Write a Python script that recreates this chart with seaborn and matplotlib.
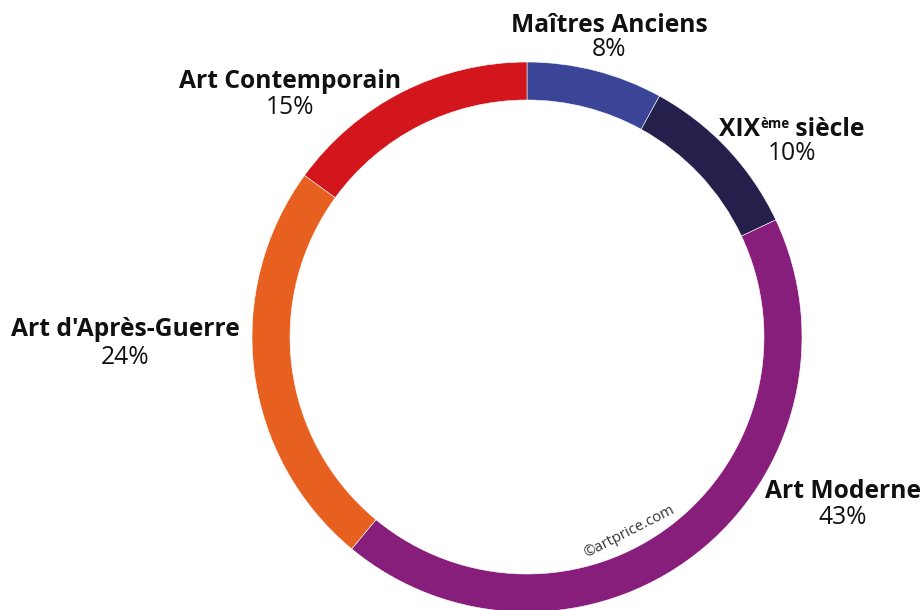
import matplotlib
matplotlib.use("Agg")
import matplotlib.pyplot as plt
import seaborn as sns

categories = ["Maîtres Anciens", "XIXème siècle", "Art Moderne", "Art d'Après-Guerre", "Art Contemporain"]
shares = [8, 10, 43, 24, 15]
pct_labels = ["8%", "10%", "43%", "24%", "15%"]

colors = ["#3a4597", "#241f4b", "#871e7c", "#e8601f", "#d3161b"]

sns.set_theme(style="white")
plt.rcParams['font.family'] = ['Open Sans', 'DejaVu Sans']

W, H = 921, 610
fig = plt.figure(figsize=(W / 100, H / 100), dpi=100)
ax = fig.add_axes([0, 0, 1, 1])
ax.set_xlim(0, W)
ax.set_ylim(0, H)
ax.set_aspect('equal')
ax.axis('off')

cx, cy = 527, H - 337
R = 275
ax.pie(shares, colors=colors, startangle=90, counterclock=False,
       radius=R, center=(cx, cy), frame=True,
       wedgeprops=dict(width=38, edgecolor='white', linewidth=0.4))
ax.set_xlim(0, W)
ax.set_ylim(0, H)
ax.axis('off')

# label positions (image pixel coordinates of text centres)
name_pos = [(609, 26), (792, 128), (843, 491), (125, 330), (290, 81)]
pct_pos = [(609, 50), (792, 154), (843, 518), (125, 358), (290, 107)]
FS = 17.7
for i, cat in enumerate(categories):
    nx, ny = name_pos[i]
    px, py = pct_pos[i]
    ax.text(px, H - py, pct_labels[i], ha='center', va='center', fontsize=FS,
            color='#111111')
    if i != 1:
        ax.text(nx, H - ny, cat, ha='center', va='center', fontsize=FS,
                fontweight='bold', color='#111111')

# XIXème siècle with superscript
fig.canvas.draw()
r = fig.canvas.get_renderer()
parts = [("XIX", FS, 0), ("ème", FS * 0.55, 8), (" siècle", FS, 0)]
objs = []
widths = []
for txt, fs, dy in parts:
    t = ax.text(0, 0, txt, fontsize=fs, fontweight='bold', color='#111111',
                ha='left', va='baseline')
    w = t.get_window_extent(renderer=r).width
    objs.append(t)
    widths.append(w)
total = sum(widths)
nx, ny = name_pos[1]
x0 = nx - total / 2
base = H - ny - 8
for (txt, fs, dy), t, w in zip(parts, objs, widths):
    t.set_position((x0, base + dy))
    x0 += w

ax.text(629, H - 532, "©artprice.com", rotation=27, ha='center', va='center',
        fontsize=10.6, color='#333333', rotation_mode='anchor')

fig.savefig("out.png", dpi=100)
